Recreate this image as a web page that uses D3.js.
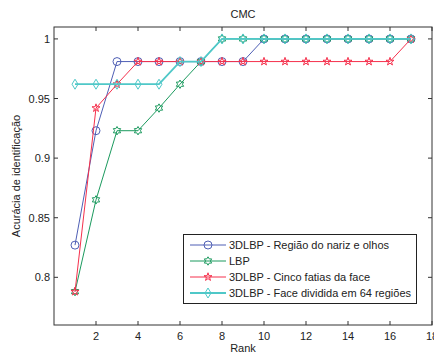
<!DOCTYPE html>
<html>
<head>
    <script src="https://d3js.org/d3.v7.min.js" charset="utf-8"></script>
    <style>
        body { margin: 0; background: white; }
        text { font-family: "Liberation Sans", Arial, sans-serif; fill: #222; }
    </style>
</head>
<body>
   <script>
        // data
        var ranks = [1, 2, 3, 4, 5, 6, 7, 8, 9, 10, 11, 12, 13, 14, 15, 16, 17];
        var blueVals  = [0.827, 0.923, 0.981, 0.981, 0.981, 0.981, 0.981, 0.981, 0.981, 1, 1, 1, 1, 1, 1, 1, 1];
        var greenVals = [0.788, 0.865, 0.923, 0.923, 0.942, 0.962, 0.981, 1, 1, 1, 1, 1, 1, 1, 1, 1, 1];
        var redVals   = [0.788, 0.942, 0.962, 0.981, 0.981, 0.981, 0.981, 0.981, 0.981, 0.981, 0.981, 0.981, 0.981, 0.981, 0.981, 0.981, 1];
        var cyanVals  = [0.962, 0.962, 0.962, 0.962, 0.962, 0.981, 0.981, 1, 1, 1, 1, 1, 1, 1, 1, 1, 1];
        var seriesNames = ["3DLBP - Região do nariz e olhos", "LBP", "3DLBP - Cinco fatias da face", "3DLBP - Face dividida em 64 regiões"];
        var xTicks = [2, 4, 6, 8, 10, 12, 14, 16, 18];
        var yTicks = [0.8, 0.85, 0.9, 0.95, 1];

        var series = [
            { name: seriesNames[0], values: blueVals,  color: "#4f5fb5", width: 1,   marker: "circle" },
            { name: seriesNames[1], values: greenVals, color: "#1b9a5e", width: 1,   marker: "hexagram" },
            { name: seriesNames[2], values: redVals,   color: "#f5304c", width: 1,   marker: "star" },
            { name: seriesNames[3], values: cyanVals,  color: "#4fc8c8", width: 1.8, marker: "diamond" }
        ];

        var W = 434, H = 355;
        var mLeft = 54, mRight = 432, mTop = 27, mBottom = 325;

        var svg = d3.select("body")
            .append("svg")
            .attr("width", W)
            .attr("height", H);

        var x = d3.scaleLinear().domain([0, 18]).range([mLeft, mRight]);
        var y = d3.scaleLinear().domain([0.76, 1.01]).range([mBottom, mTop]);

        // box
        svg.append("rect")
            .attr("x", mLeft).attr("y", mTop)
            .attr("width", mRight - mLeft).attr("height", mBottom - mTop)
            .style("fill", "white").style("stroke", "#333").style("stroke-width", 1);

        // ticks (inside, on all four sides)
        var tl = 4;
        xTicks.forEach(function (t) {
            svg.append("line").attr("x1", x(t)).attr("x2", x(t)).attr("y1", mBottom).attr("y2", mBottom - tl).style("stroke", "#333");
            svg.append("line").attr("x1", x(t)).attr("x2", x(t)).attr("y1", mTop).attr("y2", mTop + tl).style("stroke", "#333");
            svg.append("text").attr("x", x(t)).attr("y", mBottom + 15)
                .attr("text-anchor", "middle").style("font-size", "11px").text(t);
        });
        yTicks.forEach(function (t) {
            svg.append("line").attr("x1", mLeft).attr("x2", mLeft + tl).attr("y1", y(t)).attr("y2", y(t)).style("stroke", "#333");
            svg.append("line").attr("x1", mRight).attr("x2", mRight - tl).attr("y1", y(t)).attr("y2", y(t)).style("stroke", "#333");
            svg.append("text").attr("x", mLeft - 4).attr("y", y(t) + 4)
                .attr("text-anchor", "end").style("font-size", "11px").text(d3.format("")(t));
        });

        svg.append("text").attr("x", (mLeft + mRight) / 2).attr("y", 18)
            .attr("text-anchor", "middle").style("font-size", "11px").text("CMC");
        svg.append("text").attr("x", (mLeft + mRight) / 2).attr("y", 352)
            .attr("text-anchor", "middle").style("font-size", "11px").text("Rank");
        svg.append("text")
            .attr("transform", "translate(20," + ((mTop + mBottom) / 2) + ") rotate(-90)")
            .attr("text-anchor", "middle").style("font-size", "11px").text("Acurácia de identificação");

        function hexagram(r) {
            var p = [];
            for (var i = 0; i < 12; i++) {
                var a = Math.PI / 6 * i - Math.PI / 2;
                var rr = i % 2 === 0 ? r : r * 0.58;
                p.push([rr * Math.cos(a), rr * Math.sin(a)]);
            }
            return "M" + p.join("L") + "Z";
        }
        function markerPath(kind) {
            if (kind === "circle") return d3.symbol().type(d3.symbolCircle).size(50)();
            if (kind === "star") return d3.symbol().type(d3.symbolStar).size(20)();
            if (kind === "hexagram") return hexagram(4.2);
            return "M0,-5L3,0L0,5L-3,0Z";
        }

        var line = d3.line()
            .x(function (d, i) { return x(ranks[i]); })
            .y(function (d) { return y(d); });

        series.forEach(function (s) {
            var g = svg.append("g");
            g.append("path").attr("d", line(s.values))
                .style("fill", "none").style("stroke", s.color).style("stroke-width", s.width);
            g.selectAll("path.m")
                .data(s.values)
                .enter()
                .append("path")
                .attr("class", "m")
                .attr("d", markerPath(s.marker))
                .attr("transform", function (d, i) { return "translate(" + x(ranks[i]) + "," + y(d) + ")"; })
                .style("fill", "none").style("stroke", s.color).style("stroke-width", 1);
        });

        // legend
        var lg = svg.append("g");
        lg.append("rect").attr("x", 183.5).attr("y", 234.5).attr("width", 233).attr("height", 69)
            .style("fill", "white").style("stroke", "#222");
        series.forEach(function (s, i) {
            var ly = 245 + i * 16;
            lg.append("line").attr("x1", 190).attr("x2", 226).attr("y1", ly).attr("y2", ly)
                .style("stroke", s.color).style("stroke-width", s.width);
            lg.append("path").attr("d", markerPath(s.marker))
                .attr("transform", "translate(208," + ly + ")")
                .style("fill", "none").style("stroke", s.color);
            lg.append("text").attr("x", 229).attr("y", ly + 4)
                .style("font-size", "11px").text(s.name);
        });
    </script>
</body>
</html>
